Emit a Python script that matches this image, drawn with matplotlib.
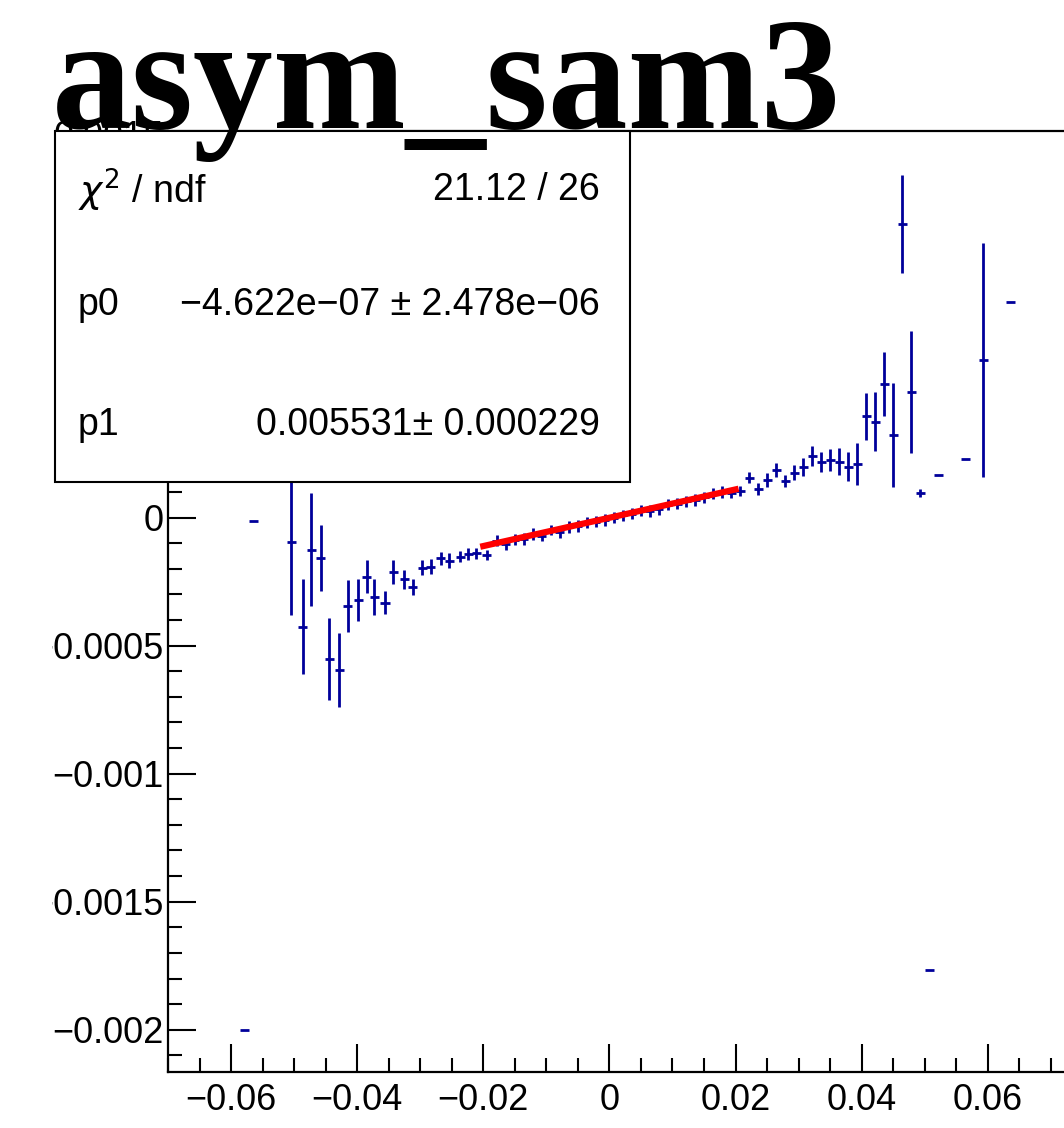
import numpy as np
import matplotlib.pyplot as plt
from matplotlib.patches import Rectangle
from matplotlib.transforms import Bbox, TransformedBbox
from matplotlib.ticker import MultipleLocator, FuncFormatter

W, H = 1064, 1128
line_col = '#00009a'
bin_w = 1 / 700.

left_x = [-0.05786, -0.05643, -0.05049, -0.04867, -0.04731, -0.04581, -0.04441,
          -0.04283, -0.04149, -0.03987, -0.03852, -0.03726, -0.03559, -0.03427,
          -0.03254, -0.03119, -0.02967, -0.02834, -0.02673, -0.02544, -0.02369,
          -0.02241, -0.02109, -0.01948]
left_y = [-2000, -12, -95, -426, -126, -156, -552, -595, -344, -321, -230, -311,
          -332, -213, -241, -270, -195, -191, -159, -169, -152, -142, -139, -146]
left_err = [0, 0, 286, 186, 221, 129, 159, 144, 102, 81, 66, 70, 46, 46,
            37, 32, 31, 29, 26, 29, 23, 23, 21, 18]

# bins inside the fit range (bin index n -> centre (n+0.5)/700)
fit_bins = list(range(-13, 14))
fit_y = [-90, -102, -86, -82, -64, -70, -48, -55, -37, -33, -18, -16, -9, 0,
         9, 16, 28, 26, 32, 50, 54, 63, 70, 80, 94, 100, 96]
fit_err = [22, 24, 22, 23, 22, 23, 21, 24, 22, 23, 22, 21, 22, 21, 22, 23, 21,
           22, 23, 22, 22, 21, 23, 22, 21, 22, 20]

# right part
right_bins = [14, 15, 16, 17, 18, 19, 20, 21, 22, 23, 24, 25, 26, 27, 28, 29, 30,
              31, 32, 33, 34, 35, 36, 39, 41, 44]
right_y = [104, 156, 111, 147, 186, 143, 176, 197, 241, 219, 225, 219, 199, 209,
           395, 375, 522, 323, 1146, 490, 95, -1767, 167, 229, 615, 844]
right_err = [20, 21, 23, 27, 27, 23, 31, 35, 39, 39, 43, 51, 57, 83, 93, 114,
             124, 202, 192, 239, 16, 0, 0, 0, 458, 0]

# fit result
p0, p0_err = -4.622e-07, 2.478e-06
p1, p1_err = 0.005531, 0.000229
chi2, ndf = 21.12, 26
fit_lo, fit_hi = -0.02, 0.02

x_all = np.concatenate([left_x,
                        (np.array(fit_bins) + 0.5) * bin_w,
                        (np.array(right_bins) + 0.5) * bin_w])
y_all = np.concatenate([left_y, fit_y, right_y]) * 1e-6
e_all = np.concatenate([left_err, fit_err, right_err]) * 1e-6

plt.rcParams['font.family'] = ['Liberation Sans', 'DejaVu Sans']

fig = plt.figure(figsize=(W / 100, H / 100), dpi=100)
ax_l, ax_r = 168 / W, 1082.4 / W
ax_b, ax_t = 1 - 1071.7 / H, 1 - 131 / H
ax = fig.add_axes([ax_l, ax_b, ax_r - ax_l, ax_t - ax_b])

ax.errorbar(x_all, y_all, yerr=e_all, xerr=bin_w / 2, fmt='none',
            ecolor=line_col, elinewidth=2.0, capsize=0, zorder=3)

xf = np.linspace(fit_lo, fit_hi, 50)
ax.plot(xf, p0 + p1 * xf, color='red', lw=4.5, zorder=4)

ax.set_xlim(-0.07, 0.075)
ax.set_ylim(-0.002164, 0.00151)

fmt = FuncFormatter(lambda v, pos: f'{round(v, 7):g}'.replace('-', '\u2212'))
ax.xaxis.set_major_locator(MultipleLocator(0.02))
ax.xaxis.set_minor_locator(MultipleLocator(0.005))
ax.yaxis.set_major_locator(MultipleLocator(0.0005))
ax.yaxis.set_minor_locator(MultipleLocator(0.0001))
ax.xaxis.set_major_formatter(fmt)
ax.yaxis.set_major_formatter(fmt)
ax.tick_params(which='both', direction='in', width=1.5, labelsize=26,
               top=False, right=False)
ax.tick_params(which='major', length=20)
ax.tick_params(which='minor', length=10)
ax.tick_params(axis='x', pad=8)
ax.tick_params(axis='y', pad=3)
for s in ax.spines.values():
    s.set_linewidth(1.6)

# y labels get cut at the left edge of the pad
clip = TransformedBbox(Bbox([[52 / W, 0], [1, 1]]), fig.transFigure)
for lab in ax.get_yticklabels():
    lab.set_clip_on(True)
    lab.set_clip_box(clip)

# stats box
bx0, bx1 = 55 / W, 630 / W
by0, by1 = 1 - 482 / H, 1 - 131 / H
fig.patches.append(Rectangle((bx0, by0), bx1 - bx0, by1 - by0, transform=fig.transFigure,
                             facecolor='white', edgecolor='black', lw=1.5, zorder=5))
rows = [(r'$\chi^{2}$ / ndf', f'{chi2:.2f} / {ndf}', 190),
        ('p0', f'{p0:.3e} \u00b1 {p0_err:.3e}'.replace('-', '\u2212'), 305),
        ('p1', f'{p1:.6f}\u00b1 {p1_err:.6f}', 425)]
for lab, val, yy in rows:
    fig.text(78 / W, 1 - yy / H, lab, fontsize=27, va='center', ha='left', zorder=6)
    fig.text(600 / W, 1 - yy / H, val, fontsize=27, va='center', ha='right', zorder=6)

fig.text(52 / W, 1 - 128 / H, 'asym_sam3', fontsize=115, fontweight='bold',
         family='Liberation Serif', va='baseline', ha='left', zorder=10)

fig.savefig('out.png', dpi=100, facecolor='white')
